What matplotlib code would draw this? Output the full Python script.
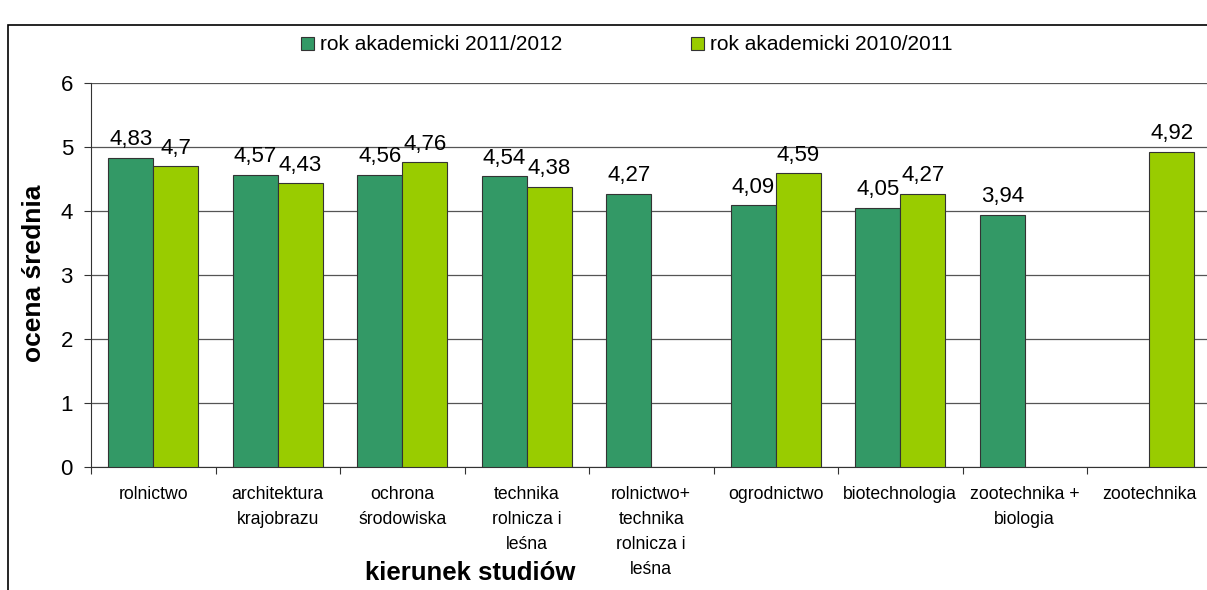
import matplotlib.pyplot as plt
import numpy as np
from matplotlib.patches import Rectangle

plt.rcParams['font.family'] = ['Liberation Sans', 'DejaVu Sans']

categories = ['rolnictwo', 'architektura\nkrajobrazu', 'ochrona\nśrodowiska',
              'technika\nrolnicza i\nleśna', 'rolnictwo+\ntechnika\nrolnicza i\nleśna',
              'ogrodnictwo', 'biotechnologia', 'zootechnika +\nbiologia', 'zootechnika']
rok_2011_2012 = [4.83, 4.57, 4.56, 4.54, 4.27, 4.09, 4.05, 3.94, None]
rok_2010_2011 = [4.70, 4.43, 4.76, 4.38, None, 4.59, 4.27, None, 4.92]
series_names = ['rok akademicki 2011/2012', 'rok akademicki 2010/2011']
colors = ['#339966', '#99CC00']


def fmt(v):
    return ('%g' % v).replace('.', ',')


def main():
    W, H = 1207, 590
    fig = plt.figure(figsize=(W / 100, H / 100), dpi=100)
    # ramka wokol wykresu
    fig.patches.append(Rectangle((8 / W, -0.1), 1.2, 1 - 25 / H + 0.1, transform=fig.transFigure,
                                 fill=False, edgecolor='black', linewidth=1.2))

    ax = fig.add_axes([91 / W, 1 - 467 / H, 1120.5 / W, (467 - 83) / H])
    x = np.arange(len(categories))
    w = 0.36
    bars = []
    for k, (vals, c) in enumerate(zip([rok_2011_2012, rok_2010_2011], colors)):
        xs = [xi + (k - 0.5) * w for xi, v in zip(x, vals) if v is not None]
        ys = [v for v in vals if v is not None]
        b = ax.bar(xs, ys, width=w, color=c, edgecolor='#333333', linewidth=0.8,
                   zorder=3, label=series_names[k])
        bars.append(b)
        for xi, yi in zip(xs, ys):
            ax.text(xi, yi + 0.12, fmt(yi), ha='center', va='bottom', fontsize=16, zorder=4)

    ax.set_xlim(-0.5, len(categories) - 0.5)
    ax.set_ylim(0, 6)
    ax.set_yticks(range(7))
    ax.yaxis.grid(True, color='#555555', linewidth=0.9)
    ax.set_axisbelow(True)
    ax.set_xticks(np.arange(len(categories) + 1) - 0.5, minor=True)
    ax.set_xticks(x)
    ax.set_xticklabels(categories, fontsize=12.7, linespacing=1.6, va='top')
    ax.tick_params(axis='x', which='major', length=0, pad=14)
    ax.tick_params(axis='x', which='minor', length=5, width=0.8, color='#333333')
    ax.tick_params(axis='y', labelsize=16, length=5, width=0.8, color='#333333', pad=8)
    for s in ['top', 'right']:
        ax.spines[s].set_visible(False)
    ax.spines['left'].set_color('#333333')
    ax.spines['bottom'].set_color('#333333')

    fig.text(34 / W, 1 - 273 / H, 'ocena średnia', fontsize=19, fontweight='bold',
             rotation=90, ha='center', va='center')
    fig.text(470 / W, 1 - 573 / H, 'kierunek studiów', fontsize=18.5, fontweight='bold',
             ha='center', va='center')

    fig.legend(handles=bars, labels=series_names, loc='center left', bbox_to_anchor=(301 / W, 1 - 45 / H),
               ncol=2, frameon=False, fontsize=15, handlelength=0.6, handleheight=0.6,
               handletextpad=0.3, columnspacing=6.2, borderpad=0, borderaxespad=0)

    fig.savefig('out.png', dpi=100)


if __name__ == '__main__':
    main()
